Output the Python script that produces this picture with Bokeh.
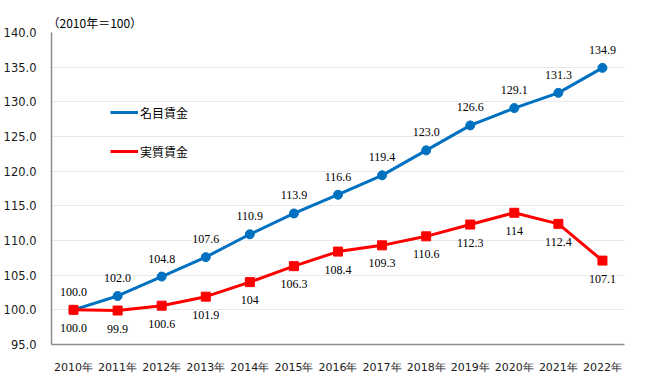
from bokeh.plotting import figure
from bokeh.models import ColumnDataSource, LabelSet, Legend, LegendItem, FixedTicker, NumeralTickFormatter
from bokeh.embed import file_html
from bokeh.resources import INLINE

years = ["2010年", "2011年", "2012年", "2013年", "2014年", "2015年", "2016年",
         "2017年", "2018年", "2019年", "2020年", "2021年", "2022年"]
nominal = [100.0, 102.0, 104.8, 107.6, 110.9, 113.9, 116.6, 119.4, 123.0, 126.6, 129.1, 131.3, 134.9]
real = [100.0, 99.9, 100.6, 101.9, 104, 106.3, 108.4, 109.3, 110.6, 112.3, 114, 112.4, 107.1]
nominal_labels = ["100.0", "102.0", "104.8", "107.6", "110.9", "113.9", "116.6",
                  "119.4", "123.0", "126.6", "129.1", "131.3", "134.9"]
real_labels = ["100.0", "99.9", "100.6", "101.9", "104", "106.3", "108.4",
               "109.3", "110.6", "112.3", "114", "112.4", "107.1"]
y_ticks = [95, 100, 105, 110, 115, 120, 125, 130, 135, 140]

FONT = "DejaVu Sans"
CJK = "Noto Sans CJK JP"
BLUE = "#0070C0"
RED = "#FF0000"

src = ColumnDataSource(dict(x=years, nom=nominal, real=real,
                            nl=nominal_labels, rl=real_labels))

p = figure(x_range=years, y_range=(95, 140), frame_width=573, frame_height=312,
           output_backend="svg", toolbar_location=None,
           min_border_left=48, min_border_right=12, min_border_bottom=26, min_border_top=32)
p.outline_line_color = None
p.background_fill_color = "white"

p.title.text = "（2010年＝100）"
p.title.text_font = CJK
p.title.text_font_size = "12px"
p.title.text_font_style = "normal"
p.title.text_color = "#000000"
p.title.align = "left"
p.title.offset = -4
p.title.standoff = 3

l1 = p.line("x", "nom", source=src, line_color=BLUE, line_width=3)
s1 = p.scatter("x", "nom", source=src, marker="circle", size=9, fill_color=BLUE, line_color=BLUE)
l2 = p.line("x", "real", source=src, line_color=RED, line_width=3)
s2 = p.scatter("x", "real", source=src, marker="square", size=9, fill_color=RED, line_color=RED)

lab1 = LabelSet(x="x", y="nom", text="nl", source=src, y_offset=18,
                text_align="center", text_baseline="middle",
                text_font=FONT, text_font_size="12px", text_color="#000000")
lab2 = LabelSet(x="x", y="real", text="rl", source=src, y_offset=-18,
                text_align="center", text_baseline="middle",
                text_font=FONT, text_font_size="12px", text_color="#000000")
p.add_layout(lab1)
p.add_layout(lab2)

legend = Legend(items=[LegendItem(label="名目賃金", renderers=[l1]),
                       LegendItem(label="実質賃金", renderers=[l2])],
                location=(59, 183))
legend.glyph_width = 28
legend.glyph_height = 20
legend.spacing = 19
legend.padding = 0
legend.margin = 0
legend.label_standoff = 2
legend.border_line_color = None
legend.background_fill_alpha = 0
legend.label_text_font = CJK
legend.label_text_font_size = "12px"
legend.label_text_color = "#000000"
p.add_layout(legend)

p.xgrid.grid_line_color = None
p.ygrid.grid_line_color = "#E9E9E9"
p.ygrid.grid_line_width = 1

p.yaxis.ticker = FixedTicker(ticks=y_ticks)
p.yaxis.formatter = NumeralTickFormatter(format="0.0")
for ax in (p.xaxis, p.yaxis):
    ax.axis_line_color = "#8C8C8C"
    ax.axis_line_width = 1.5
    ax.major_tick_line_color = None
    ax.minor_tick_line_color = None
    ax.major_label_text_font = FONT
    ax.major_label_text_font_size = "11px"
    ax.major_label_text_color = "#1a1a1a"
p.yaxis.major_label_text_font_size = "11.5px"
p.yaxis.major_label_standoff = 9
p.xaxis.major_label_standoff = 10
p.x_range.range_padding = 0

open("out.html", "w").write(file_html(p, INLINE))
